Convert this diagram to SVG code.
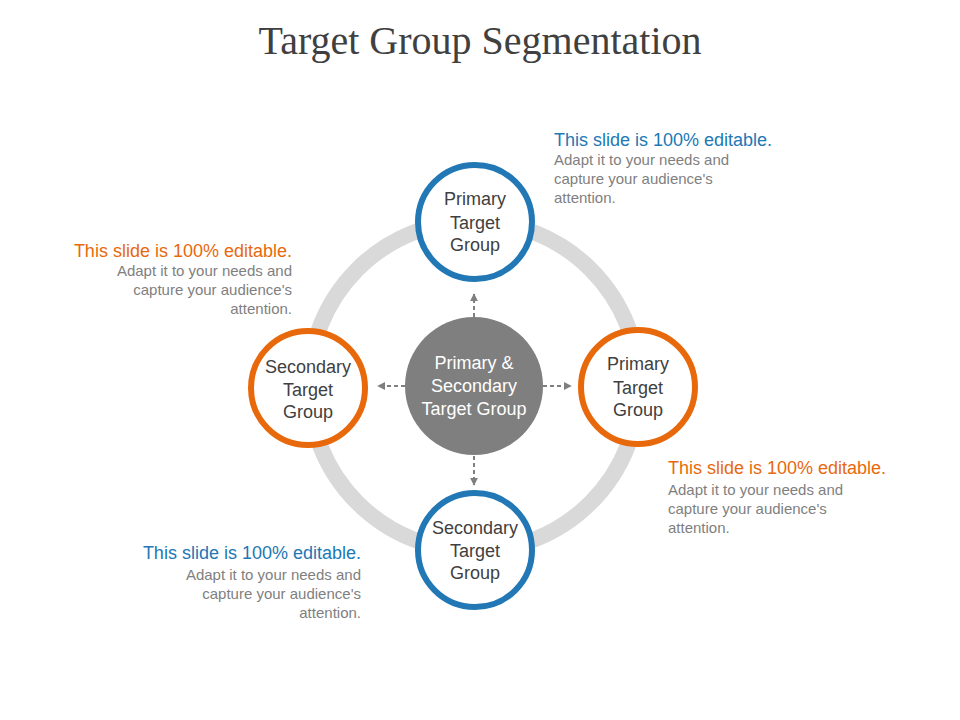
<svg xmlns="http://www.w3.org/2000/svg" width="960" height="720" viewBox="0 0 960 720">
<defs>
<style>
.t{font-family:"Liberation Sans",Arial,sans-serif}
.node{font-family:"Liberation Sans",Arial,sans-serif;font-size:18px;fill:#404040;text-anchor:middle}
.h{font-size:18px}
.b{font-size:15px;fill:#7f7f7f}
.c{fill:#fff;stroke-width:6}
.conn{stroke:#7f7f7f;stroke-width:2;stroke-dasharray:4,3;fill:none}
</style>
<marker id="ah" viewBox="0 0 10 10" refX="9" refY="5" markerWidth="4" markerHeight="4" orient="auto"><path d="M0,0L10,5L0,10z" fill="#7f7f7f"/></marker>
</defs>
<rect width="960" height="720" fill="#fff"/>
<text x="480" y="54" text-anchor="middle" font-family="'Liberation Serif','Times New Roman',serif" font-size="40" fill="#404040">Target Group Segmentation</text>
<circle id="ring" cx="474" cy="386" r="165" fill="none" stroke="#d9d9d9" stroke-width="16"/>
<g id="connectors">
<line class="conn" x1="474" y1="317" x2="474" y2="294" marker-end="url(#ah)"/>
<line class="conn" x1="474" y1="456" x2="474" y2="485" marker-end="url(#ah)"/>
<line class="conn" x1="405" y1="386" x2="378" y2="386" marker-end="url(#ah)"/>
<line class="conn" x1="543" y1="386" x2="571" y2="386" marker-end="url(#ah)"/>
</g>
<g id="center">
<circle cx="474" cy="386" r="69" fill="#7f7f7f"/>
<text class="node" fill="#fff" style="fill:#fff"><tspan x="474" y="369">Primary &amp;</tspan><tspan x="474" y="392">Secondary</tspan><tspan x="474" y="415">Target Group</tspan></text>
</g>
<g id="top">
<circle class="c" cx="475" cy="222" r="57" stroke="#2178b5"/>
<text class="node"><tspan x="475" y="205">Primary</tspan><tspan x="475" y="229">Target</tspan><tspan x="475" y="251">Group</tspan></text>
</g>
<g id="right">
<circle class="c" cx="638" cy="387" r="57" stroke="#e8690c"/>
<text class="node"><tspan x="638" y="370">Primary</tspan><tspan x="638" y="394">Target</tspan><tspan x="638" y="416">Group</tspan></text>
</g>
<g id="left">
<circle class="c" cx="308" cy="388" r="57" stroke="#e8690c"/>
<text class="node"><tspan x="308" y="373">Secondary</tspan><tspan x="308" y="396">Target</tspan><tspan x="308" y="418">Group</tspan></text>
</g>
<g id="bottom">
<circle class="c" cx="475" cy="550" r="57" stroke="#2178b5"/>
<text class="node"><tspan x="475" y="534">Secondary</tspan><tspan x="475" y="557">Target</tspan><tspan x="475" y="579">Group</tspan></text>
</g>
<g id="note-tr" class="t">
<text x="554" y="146" class="h" fill="#2178b5">This slide is 100% editable.</text>
<text class="b"><tspan x="554" y="165">Adapt it to your needs and</tspan><tspan x="554" y="184">capture your audience's</tspan><tspan x="554" y="203">attention.</tspan></text>
</g>
<g id="note-tl" class="t" text-anchor="end">
<text x="292" y="257" class="h" fill="#e8690c">This slide is 100% editable.</text>
<text class="b"><tspan x="292" y="276">Adapt it to your needs and</tspan><tspan x="292" y="295">capture your audience's</tspan><tspan x="292" y="314">attention.</tspan></text>
</g>
<g id="note-br" class="t">
<text x="668" y="474" class="h" fill="#e8690c">This slide is 100% editable.</text>
<text class="b"><tspan x="668" y="495">Adapt it to your needs and</tspan><tspan x="668" y="514">capture your audience's</tspan><tspan x="668" y="533">attention.</tspan></text>
</g>
<g id="note-bl" class="t" text-anchor="end">
<text x="361" y="559" class="h" fill="#2178b5">This slide is 100% editable.</text>
<text class="b"><tspan x="361" y="580">Adapt it to your needs and</tspan><tspan x="361" y="599">capture your audience's</tspan><tspan x="361" y="618">attention.</tspan></text>
</g>
</svg>
